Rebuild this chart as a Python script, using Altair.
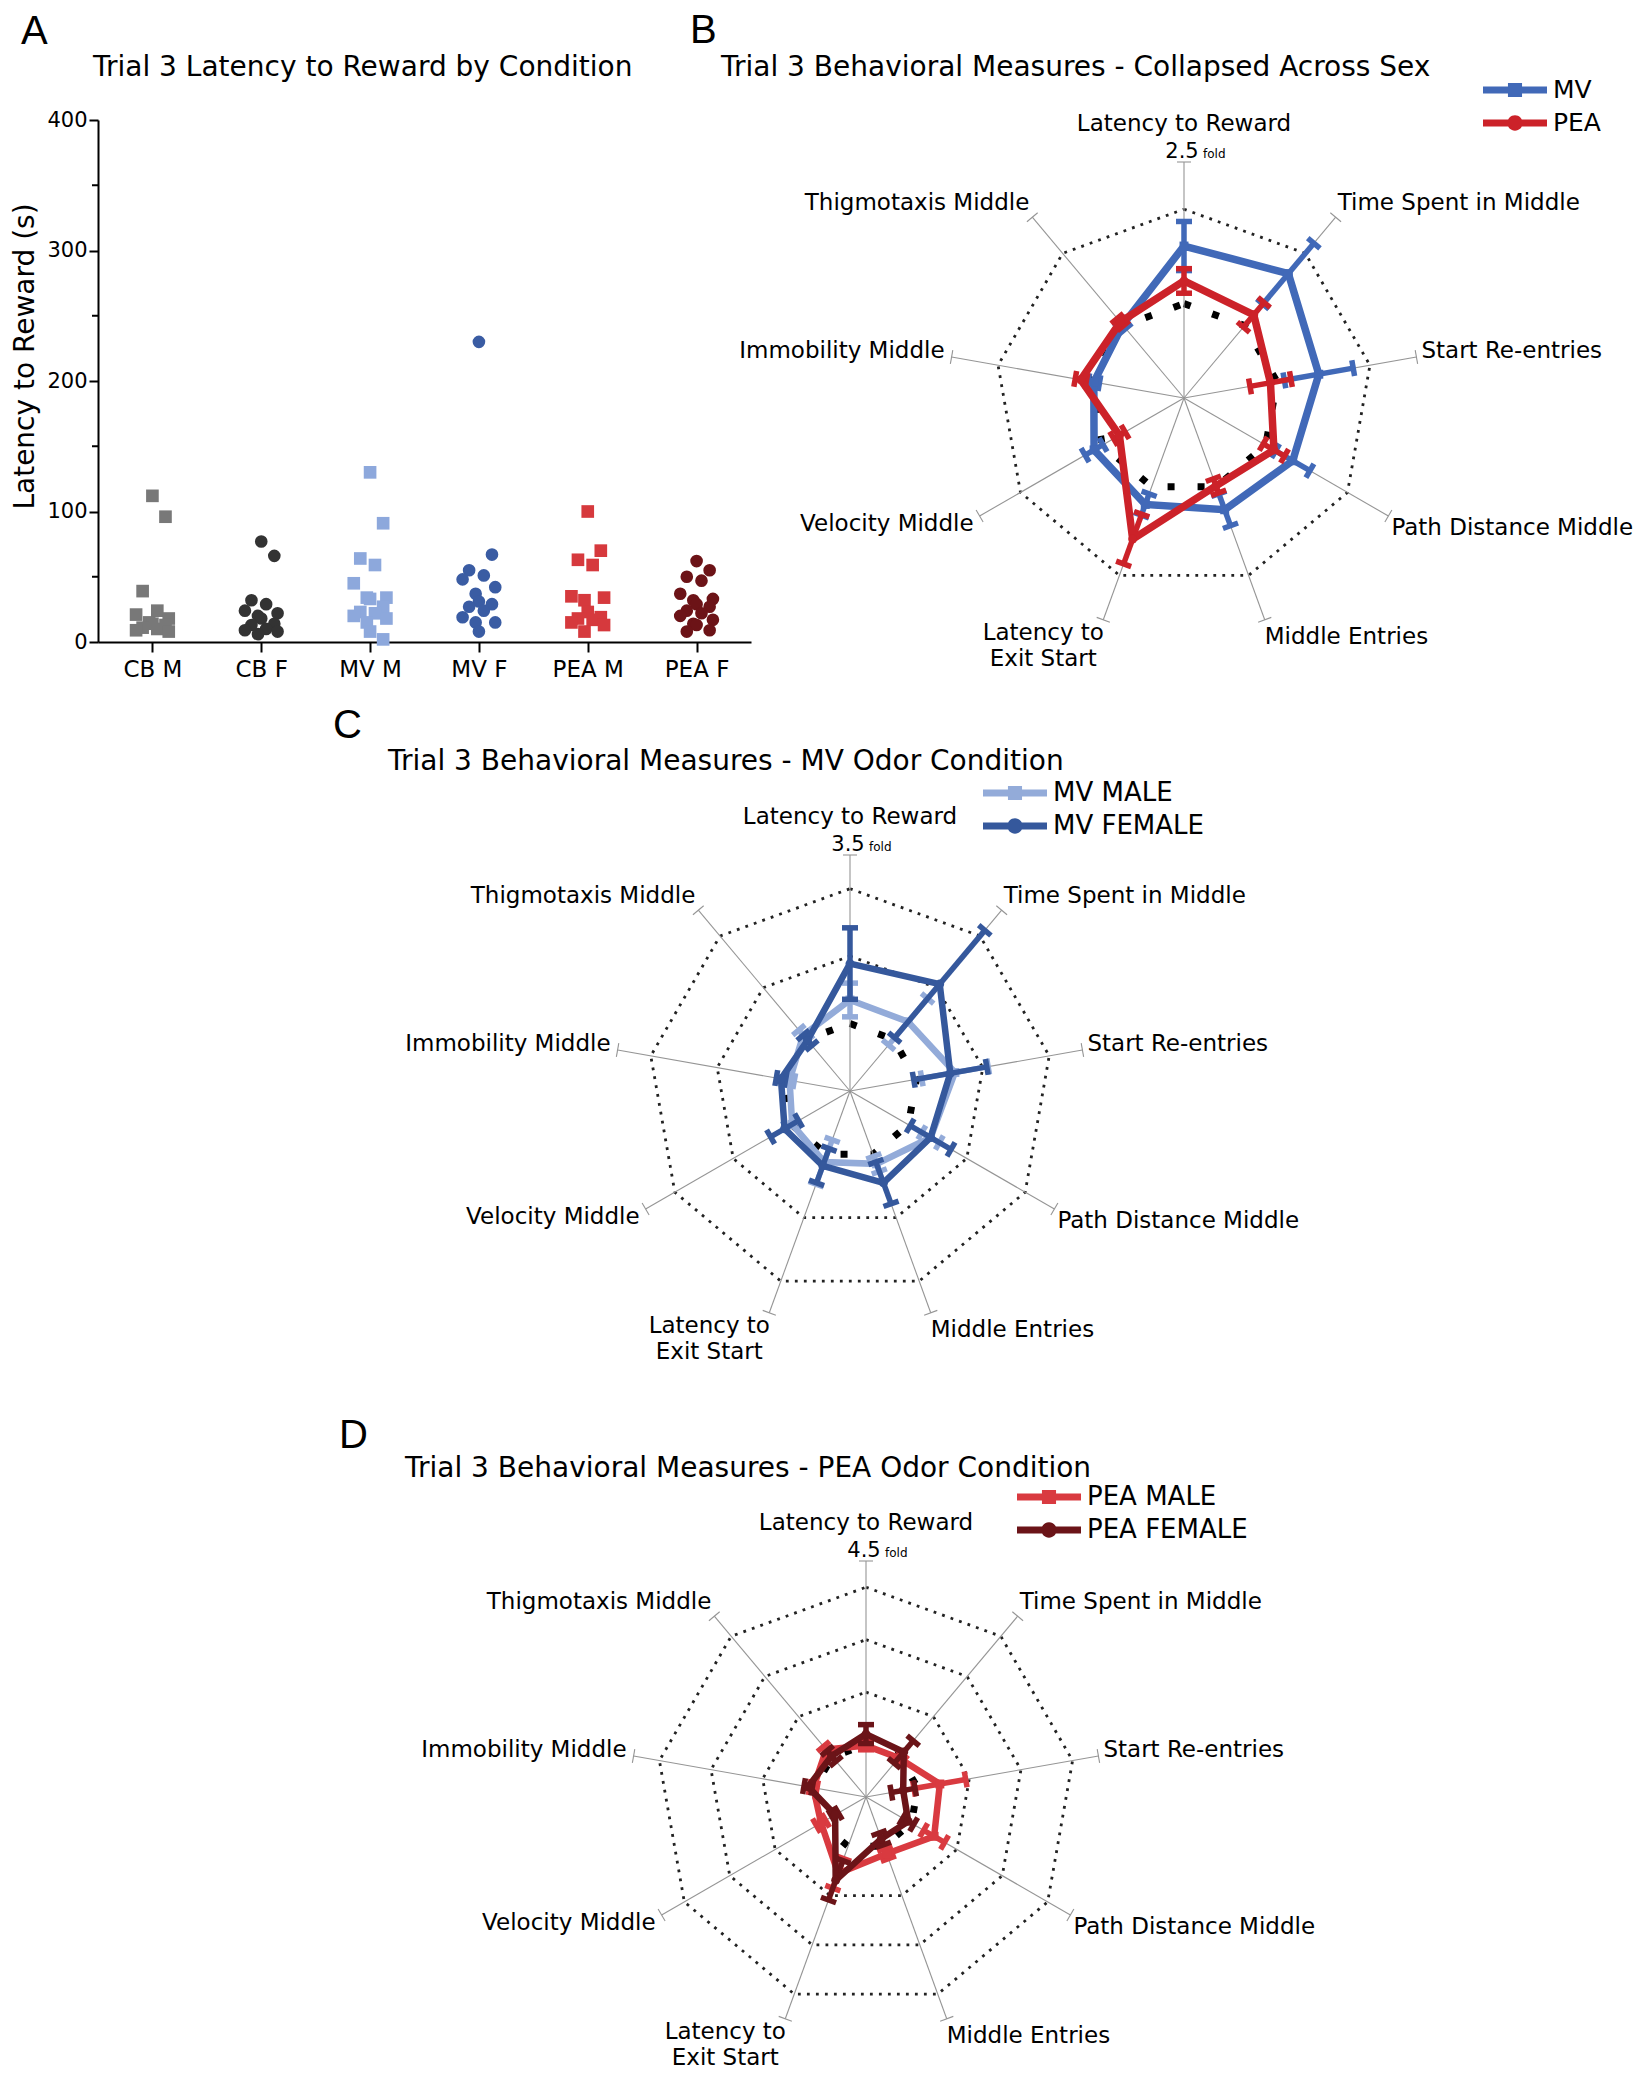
import altair as alt
import pandas as pd

FONT = "DejaVu Sans"
LETTER_FONT = "Liberation Sans"

# ---------------- Panel A data ----------------
groups_a = ["CB M", "CB F", "MV M", "MV F", "PEA M", "PEA F"]
cb_m = [112, 96, 39, 24, 21, 18, 15, 14, 13, 11, 10, 9, 8]
cb_f = [77, 66, 32, 29, 24, 22, 20, 18, 14, 13, 10, 9, 8, 6]
mv_m = [130, 91, 64, 59, 45, 34, 34, 33, 27, 23, 22, 20, 18, 15, 8, 2]
mv_f = [230, 67, 55, 51, 48, 42, 37, 31, 29, 27, 24, 19, 15, 15, 8]
pea_m = [100, 70, 63, 59, 35, 34, 32, 23, 19, 18, 17, 15, 13, 8]
pea_f = [62, 55, 50, 47, 37, 33, 32, 29, 27, 24, 22, 20, 17, 14, 13, 9, 8]
y_ticks_a = [0, 100, 200, 300, 400]
y_minor_a = [50, 150, 250, 350]
colors_a = ["#787878", "#333333", "#8da8dc", "#3a5ca3", "#d6393d", "#6c1317"]
shapes_a = ["square", "circle", "square", "circle", "square", "circle"]

# ---------------- Radar data ----------------
axis_labels = ["Latency to Reward", "Time Spent in Middle", "Start Re-entries",
               "Path Distance Middle", "Middle Entries", "Latency to\nExit Start",
               "Velocity Middle", "Immobility Middle", "Thigmotaxis Middle"]

# Panel B (collapsed across sex), fold of control
b_names = ["MV", "PEA"]
b_mv = [1.61, 1.72, 1.45, 1.33, 1.26, 1.20, 1.10, 0.97, 1.01]
b_mv_sem = [0.26, 0.42, 0.37, 0.21, 0.18, 0.12, 0.11, 0.06, 0.05]
b_pea = [1.24, 1.15, 0.93, 1.10, 0.99, 1.59, 0.79, 1.11, 1.05]
b_pea_sem = [0.13, 0.17, 0.22, 0.13, 0.08, 0.28, 0.07, 0.06, 0.05]

# Panel C (MV by sex)
c_names = ["MV MALE", "MV FEMALE"]
c_male = [1.35, 1.34, 1.58, 1.38, 1.15, 1.12, 0.99, 0.91, 1.08]
c_male_sem = [0.25, 0.45, 0.50, 0.15, 0.12, 0.35, 0.10, 0.07, 0.10]
c_female = [1.89, 2.07, 1.51, 1.38, 1.45, 1.18, 1.12, 1.04, 0.98]
c_female_sem = [0.53, 1.04, 0.55, 0.35, 0.33, 0.27, 0.24, 0.07, 0.10]

# Panel D (PEA by sex)
d_names = ["PEA MALE", "PEA FEMALE"]
d_male = [0.98, 0.97, 1.43, 1.50, 1.15, 1.55, 0.99, 1.02, 1.18]
d_male_sem = [0.08, 0.10, 0.50, 0.23, 0.10, 0.30, 0.10, 0.07, 0.08]
d_female = [1.20, 1.12, 0.72, 0.93, 0.85, 1.69, 0.68, 1.12, 1.02]
d_female_sem = [0.18, 0.28, 0.23, 0.12, 0.12, 0.40, 0.07, 0.08, 0.13]

radar_max = [2.5, 3.5, 4.5]
ring_levels = [[2], [2, 3], [2, 3, 4]]

# ---------------- layout (pixels) ----------------
PX0, PY0, W, H = 98, 120, 653, 522      # panel A plot area on the page
R = 236                                  # spoke length in px
SVG_W, SVG_H = 1629, 2063

def rel(x, y):
    return x - PX0, y - PY0

def txt(text, x, y, size, align="left", font=FONT, baseline="alphabetic"):
    rx, ry = rel(x, y)
    return alt.Chart(pd.DataFrame({"t": [text]})).mark_text(
        align=align, baseline=baseline, fontSize=size, font=font, color="black"
    ).encode(text="t:N", x=alt.value(rx), y=alt.value(ry))

# ---------------- Panel A ----------------
rows = []
for gi, (g, vals) in enumerate(zip(groups_a, [cb_m, cb_f, mv_m, mv_f, pea_m, pea_f])):
    for v in vals:
        rows.append({"group": g, "gi": gi, "value": v})
df_a = pd.DataFrame(rows)
names_expr = "[" + ",".join("'%s'" % g for g in groups_a) + "][datum.value]"

xa = alt.Scale(domain=[-0.5, 5.5], nice=False, zero=False)
ya = alt.Scale(domain=[0, 400], nice=False)

pts_a = alt.Chart(df_a).transform_window(
    rn="row_number()", groupby=["group"], sort=[alt.SortField("value", order="descending")]
).transform_calculate(
    xj="datum.gi + [0, 1.6, -1.2, 0.6, -2, 2, -0.4][(datum.rn - 1) % 7] * 0.075"
).mark_point(filled=True, opacity=1, size=160).encode(
    x=alt.X("xj:Q", scale=xa, axis=alt.Axis(values=list(range(6)), labelExpr=names_expr,
            title=None, grid=False, domainColor="black", domainWidth=2, tickColor="black",
            tickWidth=2, tickSize=10, labelFont=FONT, labelFontSize=23, labelColor="black",
            labelPadding=6)),
    y=alt.Y("value:Q", scale=ya, axis=alt.Axis(values=y_ticks_a, title="Latency to Reward (s)",
            grid=False, domainColor="black", domainWidth=2, tickColor="black", tickWidth=2,
            tickSize=9, labelFont=FONT, labelFontSize=21, labelColor="black", labelPadding=2,
            titleFont=FONT, titleFontSize=28, titleFontWeight="normal", titleColor="black",
            titlePadding=7, titleY=236)),
    color=alt.Color("group:N", scale=alt.Scale(domain=groups_a, range=colors_a), legend=None),
    shape=alt.Shape("group:N", scale=alt.Scale(domain=groups_a, range=shapes_a), legend=None),
)
minor_a = alt.Chart(pd.DataFrame({"value": y_minor_a})).mark_rule(color="black", strokeWidth=2).encode(
    y=alt.Y("value:Q", scale=ya), x=alt.value(-6), x2=alt.value(0))

panel_a = alt.layer(
    pts_a, minor_a,
    txt("A", 21, 44, 40, font=LETTER_FONT),
    txt("Trial 3 Latency to Reward by Condition", 93, 76, 28),
)

# ---------------- Radar panels ----------------
# legend glyphs: a 64 px bar with a marker, drawn at symbol size 1024 (unit = 16 px)
LINE_PATH = "M-2,-0.22H2V0.22H-2Z"
SQ_PATH = LINE_PATH + "M-0.44,-0.44H0.44V0.44H-0.44Z"
CI_PATH = LINE_PATH + "M-0.48,0A0.48,0.48 0 1,1 0.48,0A0.48,0.48 0 1,1 -0.48,0Z"

label_style = [("center", 0, -38), ("left", 2, -14), ("left", 5, -6), ("left", 3, 12),
               ("left", 0, 17), ("center", -60, 13), ("right", -6, 8), ("right", -7, -6),
               ("right", -3, -14)]


def radar(names, vals, sems, colors, shapes, vmax, levels, center, title, title_xy,
          letter, letter_xy, legend_xy, legend_font, lw, ew, msize):
    cx, cy = center
    k = R / vmax
    xs = alt.Scale(domain=[(PX0 - cx) / k, (PX0 + W - cx) / k], nice=False, zero=False)
    ys = alt.Scale(domain=[(cy - PY0 - H) / k, (cy - PY0) / k], nice=False, zero=False)
    X = lambda f: alt.X(f, scale=xs, axis=None)
    Y = lambda f: alt.Y(f, scale=ys, axis=None)
    th = "datum.idx * 2 * PI / 9"

    # grid rings
    ring_rows = [{"level": L, "idx": i} for L in levels for i in range(10)]
    rings = alt.Chart(pd.DataFrame(ring_rows)).transform_calculate(
        x=f"datum.level * sin({th})", y=f"datum.level * cos({th})"
    ).mark_line(color="#222222", strokeWidth=2.8, strokeDash=[2.8, 6.2], strokeCap="butt").encode(
        x=X("x:Q"), y=Y("y:Q"), detail="level:N", order="idx:Q")
    ctrl = alt.Chart(pd.DataFrame([{"level": 1, "idx": i} for i in range(10)])).transform_calculate(
        x=f"datum.level * sin({th})", y=f"datum.level * cos({th})"
    ).mark_line(color="black", strokeWidth=7, strokeDash=[7, 23], strokeCap="butt").encode(
        x=X("x:Q"), y=Y("y:Q"), order="idx:Q")

    # spokes
    ax_df = pd.DataFrame({"idx": list(range(9)), "label": axis_labels})
    c_sp = 7 / k
    ax_base = alt.Chart(ax_df).transform_calculate(
        zero="0", xe=f"{vmax} * sin({th})", ye=f"{vmax} * cos({th})",
        xc1=f"{vmax} * sin({th}) - {c_sp} * cos({th})", yc1=f"{vmax} * cos({th}) + {c_sp} * sin({th})",
        xc2=f"{vmax} * sin({th}) + {c_sp} * cos({th})", yc2=f"{vmax} * cos({th}) - {c_sp} * sin({th})",
    )
    spokes = ax_base.mark_rule(color="#959595", strokeWidth=1.1).encode(
        x=X("zero:Q"), y=Y("zero:Q"), x2="xe:Q", y2="ye:Q")
    spoke_caps = ax_base.mark_rule(color="#959595", strokeWidth=1.1).encode(
        x=X("xc1:Q"), y=Y("yc1:Q"), x2="xc2:Q", y2="yc2:Q")

    layers = [rings, ctrl, spokes, spoke_caps]

    # series
    c_err = 8 / k
    for s, v, e, col, shp in zip(names, vals, sems, colors, shapes):
        srows = [{"series": s, "idx": i, "value": v[i % 9], "sem": e[i % 9]} for i in range(10)]
        base = alt.Chart(pd.DataFrame(srows)).transform_calculate(
            x=f"datum.value * sin({th})", y=f"datum.value * cos({th})",
            hi="datum.value + datum.sem", lo="max(0, datum.value - datum.sem)",
        ).transform_calculate(
            xh=f"datum.hi * sin({th})", yh=f"datum.hi * cos({th})",
            xl=f"datum.lo * sin({th})", yl=f"datum.lo * cos({th})",
        ).transform_calculate(
            xh1=f"datum.xh - {c_err} * cos({th})", yh1=f"datum.yh + {c_err} * sin({th})",
            xh2=f"datum.xh + {c_err} * cos({th})", yh2=f"datum.yh - {c_err} * sin({th})",
            xl1=f"datum.xl - {c_err} * cos({th})", yl1=f"datum.yl + {c_err} * sin({th})",
            xl2=f"datum.xl + {c_err} * cos({th})", yl2=f"datum.yl - {c_err} * sin({th})",
        )
        pb = base.transform_filter("datum.idx < 9")
        layers += [
            pb.mark_rule(color=col, strokeWidth=ew).encode(x=X("xl:Q"), y=Y("yl:Q"), x2="xh:Q", y2="yh:Q"),
            pb.mark_rule(color=col, strokeWidth=ew).encode(x=X("xh1:Q"), y=Y("yh1:Q"), x2="xh2:Q", y2="yh2:Q"),
            pb.mark_rule(color=col, strokeWidth=ew).encode(x=X("xl1:Q"), y=Y("yl1:Q"), x2="xl2:Q", y2="yl2:Q"),
            base.mark_line(color=col, strokeWidth=lw, strokeJoin="miter").encode(
                x=X("x:Q"), y=Y("y:Q"), order="idx:Q"),
            pb.mark_point(filled=True, shape=shp, size=msize, color=col, opacity=1).encode(
                x=X("x:Q"), y=Y("y:Q")),
        ]

    # axis labels
    for i, (al, dx, dy) in enumerate(label_style):
        layers.append(ax_base.transform_filter(f"datum.idx == {i}").mark_text(
            align=al, baseline="middle", dx=dx, dy=dy, fontSize=23, font=FONT, color="black",
            lineBreak="\n", lineHeight=26).encode(x=X("xe:Q"), y=Y("ye:Q"), text="label:N"))
    # max fold label
    top_df = pd.DataFrame({"v": [vmax], "t": [f"{vmax}"], "f": ["fold"]})
    layers.append(alt.Chart(top_df).transform_calculate(zero="0").mark_text(
        align="center", baseline="middle", dx=-2, dy=-10, fontSize=21, font=FONT, color="black"
    ).encode(x=X("zero:Q"), y=Y("v:Q"), text="t:N"))
    layers.append(alt.Chart(top_df).transform_calculate(zero="0").mark_text(
        align="left", baseline="middle", dx=19, dy=-8, fontSize=12, font=FONT, color="black"
    ).encode(x=X("zero:Q"), y=Y("v:Q"), text="f:N"))

    # legend (symbol left edge, first row centre) -> legend group origin
    lx, ly = rel(legend_xy[0] + 16, legend_xy[1] - 16)
    legend = alt.Legend(orient="none", legendX=lx, legendY=ly, title=None, symbolSize=1024,
                        symbolStrokeWidth=0, symbolOpacity=1, labelFont=FONT,
                        labelFontSize=legend_font, labelColor="black", labelOffset=22,
                        rowPadding=4, labelLimit=400)
    paths = [SQ_PATH if shp == "square" else CI_PATH for shp in shapes]
    layers.append(alt.Chart(pd.DataFrame({"series": names})).mark_point(
        filled=True, opacity=0).encode(
        color=alt.Color("series:N", scale=alt.Scale(domain=names, range=colors), legend=legend),
        shape=alt.Shape("series:N", scale=alt.Scale(domain=names, range=paths), legend=legend)))

    layers.append(txt(letter, letter_xy[0], letter_xy[1], 40, font=LETTER_FONT))
    layers.append(txt(title, title_xy[0], title_xy[1], 28))
    return alt.layer(*layers)


panel_b = radar(b_names, [b_mv, b_pea], [b_mv_sem, b_pea_sem], ["#4169b8", "#cc2229"],
                ["square", "circle"], radar_max[0], ring_levels[0], (1184, 398),
                "Trial 3 Behavioral Measures - Collapsed Across Sex", (721, 76),
                "B", (690, 43), (1483, 90), 25, 7.5, 5.5, 80)
panel_c = radar(c_names, [c_male, c_female], [c_male_sem, c_female_sem], ["#93abd9", "#35589c"],
                ["square", "circle"], radar_max[1], ring_levels[1], (850, 1091),
                "Trial 3 Behavioral Measures - MV Odor Condition", (388, 770),
                "C", (333, 738), (983, 793), 26, 6.5, 5.5, 80)
panel_d = radar(d_names, [d_male, d_female], [d_male_sem, d_female_sem], ["#d93a40", "#6b1418"],
                ["square", "circle"], radar_max[2], ring_levels[2], (866, 1797),
                "Trial 3 Behavioral Measures - PEA Odor Condition", (405, 1477),
                "D", (339, 1448), (1017, 1497), 26, 6.5, 5.5, 80)

chart = alt.layer(panel_a, panel_b, panel_c, panel_d).resolve_scale(
    x="independent", y="independent", color="independent", shape="independent"
).properties(
    width=W, height=H,
    autosize=alt.AutoSizeParams(type="none"),
    padding={"left": PX0 - 8, "top": PY0 - 8, "right": SVG_W - (PX0 - 8) - W,
             "bottom": SVG_H - (PY0 - 8) - H},
).configure(background="white").configure_view(stroke="transparent", strokeWidth=0)

chart.save("out.html", embed_options={"renderer": "svg", "actions": False})
